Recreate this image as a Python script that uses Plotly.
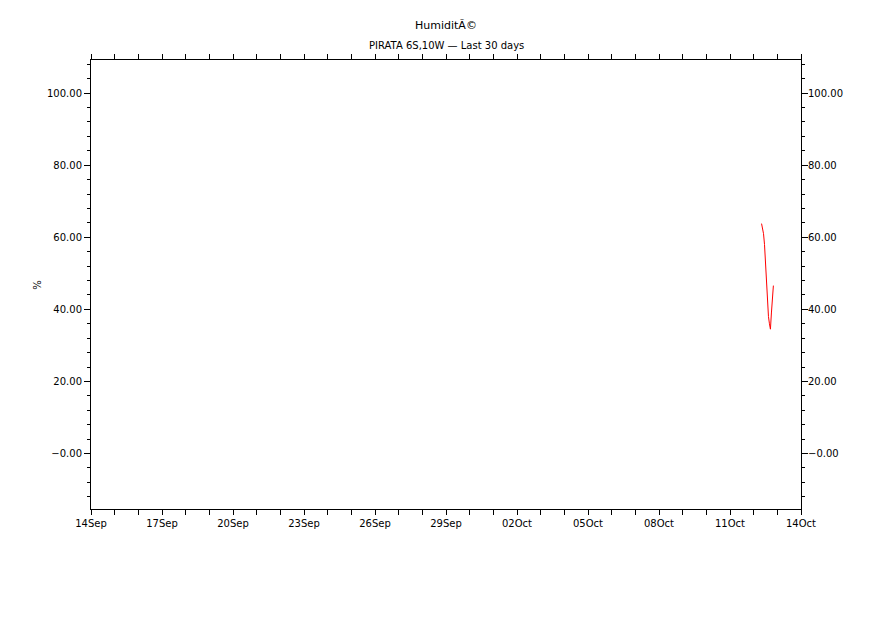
import plotly.graph_objects as go

# ---- data ----
times = [
    "2024-10-12 08:00", "2024-10-12 09:00", "2024-10-12 10:00", "2024-10-12 11:00",
    "2024-10-12 12:00", "2024-10-12 13:00", "2024-10-12 14:00", "2024-10-12 15:00",
    "2024-10-12 16:00", "2024-10-12 17:00", "2024-10-12 18:00", "2024-10-12 19:00",
    "2024-10-12 20:00",
]
humidity = [63.8, 62.5, 61.0, 58.0, 52.4, 49.1, 45.0, 38.0, 36.0, 34.5, 39.0, 44.0, 46.6]

x_tick_vals = ["2024-09-14", "2024-09-17", "2024-09-20", "2024-09-23", "2024-09-26",
               "2024-09-29", "2024-10-02", "2024-10-05", "2024-10-08", "2024-10-11",
               "2024-10-14"]
x_tick_text = ["14Sep", "17Sep", "20Sep", "23Sep", "26Sep", "29Sep",
               "02Oct", "05Oct", "08Oct", "11Oct", "14Oct"]
y_tick_vals = [0, 20, 40, 60, 80, 100]
y_tick_text = ["\u22120.00", "20.00", "40.00", "60.00", "80.00", "100.00"]

title_text = "HumiditÃ©"
subtitle_text = "PIRATA 6S,10W \u2014 Last 30 days"
y_label = "%"

W, H = 891, 630
OFF = 8  # page body margin offset
L, R, T, B = 90.7 - OFF, 800.7 - OFF, 60 - OFF, 509.3 - OFF
y_range = [-15.4, 109.2]
x_range = ["2024-09-14", "2024-10-14"]

font = dict(family="DejaVu Sans", size=10, color="black")


def py_to_paper(py):
    return (B - (py - OFF)) / (B - T)


def px_to_paper(px):
    return ((px - OFF) - L) / (R - L)


fig = go.Figure()
fig.add_trace(go.Scatter(x=times, y=humidity, mode="lines",
                         line=dict(color="red", width=1), showlegend=False))
# invisible trace for right axis
fig.add_trace(go.Scatter(x=[times[0]], y=[humidity[0]], yaxis="y2", mode="lines",
                         line=dict(width=0), showlegend=False, hoverinfo="skip",
                         opacity=0))

fig.update_layout(
    width=W, height=H,
    margin=dict(l=L, r=W - R, t=T, b=H - B, pad=0),
    paper_bgcolor="white", plot_bgcolor="white",
    font=font,
    showlegend=False,
    xaxis=dict(
        range=x_range, type="date",
        tickmode="array", tickvals=x_tick_vals, ticktext=x_tick_text,
        ticks="outside", ticklen=5, tickcolor="black", tickwidth=1,
        showline=True, linecolor="black", linewidth=1, mirror="allticks",
        showgrid=False, zeroline=False,
        tickfont=font,
        minor=dict(dtick=86400000, tick0="2024-09-14", ticks="outside",
                   ticklen=3, tickcolor="black", showgrid=False),
    ),
    yaxis=dict(
        range=y_range,
        tickmode="array", tickvals=y_tick_vals, ticktext=y_tick_text,
        ticks="outside", ticklen=6, tickcolor="black", tickwidth=1,
        showline=True, linecolor="black", linewidth=1, mirror="allticks",
        showgrid=False, zeroline=False,
        tickfont=font,
        minor=dict(dtick=4, tick0=0, ticks="outside", ticklen=3,
                   tickcolor="black", showgrid=False),
    ),
    yaxis2=dict(
        range=y_range, overlaying="y", side="right",
        tickmode="array", tickvals=y_tick_vals, ticktext=y_tick_text,
        ticks="", showline=False, showgrid=False, zeroline=False,
        tickfont=font, ticklabelstandoff=6,
    ),
    annotations=[
        dict(text=title_text, x=0.5, y=py_to_paper(25), xref="paper", yref="paper",
             showarrow=False, font=dict(family="DejaVu Sans", size=11, color="black"),
             xanchor="center", yanchor="middle"),
        dict(text=subtitle_text, x=0.5, y=py_to_paper(45), xref="paper", yref="paper",
             showarrow=False, font=dict(family="DejaVu Sans", size=10, color="black"),
             xanchor="center", yanchor="middle"),
        dict(text=y_label, x=px_to_paper(37), y=0.5, xref="paper", yref="paper",
             showarrow=False, textangle=-90, font=font,
             xanchor="center", yanchor="middle"),
    ],
)

fig.write_html("out.html")
